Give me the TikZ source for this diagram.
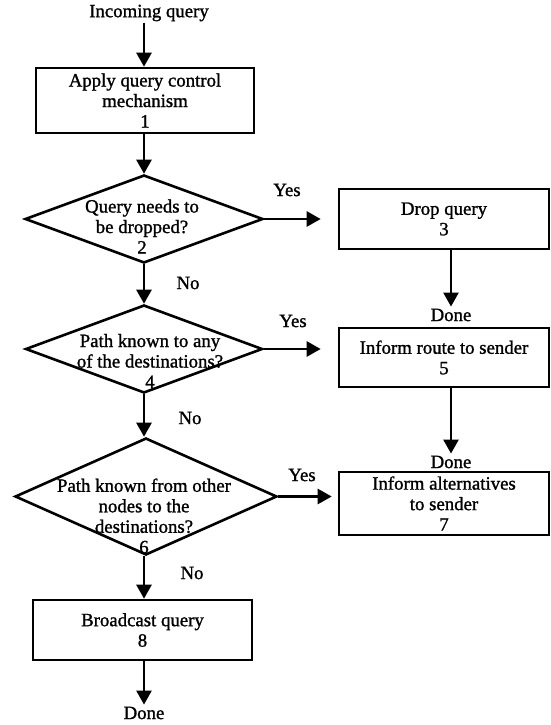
\documentclass[tikz,border=0pt]{standalone}
\usepackage{fontspec}
\setmainfont{Liberation Serif}[BoldFont={Liberation Serif},BoldFeatures={FakeBold=1.2}]
\usetikzlibrary{shapes.geometric,arrows.meta}
\begin{document}
\begin{tikzpicture}[x=1pt,y=1pt,
  every node/.style={font=\fontsize{18.8}{20.5}\selectfont\bfseries},
  lw/.style={line width=2.6pt},
  box/.style={draw, lw, rectangle, align=center, inner sep=0pt},
  dia/.style={draw, lw, diamond, inner sep=0pt},
  txt/.style={align=center, inner sep=2pt},
  arr/.style={lw, -{Triangle[length=14pt,width=15pt]}}
]
\useasboundingbox (0,0) rectangle (551,-725);
\fill[white] (0,0) rectangle (551,-725);
% nodes
\node[txt] (inc) at (149,-13) {Incoming query};
\node[box, minimum width=218, minimum height=65] (b1) at (145,-100.5) {Apply query control\\mechanism\\1};
\node[dia, minimum width=238, minimum height=88] (d2) at (144,-219) {};
\node[txt] (t2) at (142,-226.5) {Query needs to\\be dropped?\\2};
\node[box, minimum width=210, minimum height=60] (b3) at (444,-219) {Drop query\\3};
\node[txt] (done1) at (451,-315) {Done};
\node[dia, minimum width=237, minimum height=88] (d4) at (144,-349) {};
\node[txt] (t4) at (150,-361) {Path known to any\\of the destinations?\\4};
\node[box, minimum width=210, minimum height=59] (b5) at (444,-357.5) {Inform route to sender\\5};
\node[txt] (done2) at (451,-462) {Done};
\node[dia, minimum width=262, minimum height=117] (d6) at (146,-496.5) {};
\node[txt] (t6) at (144,-516) {Path known from other\\nodes to the\\destinations?\\6};
\node[box, minimum width=210, minimum height=63] (b7) at (444,-503.5) {Inform alternatives\\to sender\\7};
\node[box, minimum width=219, minimum height=60] (b8) at (142.5,-630) {Broadcast query\\8};
\node[txt] (done3) at (144,-713) {Done};
% labels
\node[txt] (yes1) at (287,-190) {Yes};
\node[txt] (yes2) at (293,-321) {Yes};
\node[txt] (yes3) at (302,-475) {Yes};
\node[txt] (no1) at (188,-283) {No};
\node[txt] (no2) at (190,-418) {No};
\node[txt] (no3) at (192,-573) {No};
% connectors
\draw[arr] (inc.south -| d2.north) -- (d2.north |- b1.north);
\draw[arr] (d2.north |- b1.south) -- (d2.north);
\draw[arr, shorten >=17pt] (d2.east) -- (d2.east -| b3.west);
\draw[arr] (b3.south -| done1) -- (done1.north);
\draw[arr] (d2.south) -- (d2.south |- d4.north);
\draw[arr, shorten >=17pt] (d4.east) -- (d4.east -| b5.west);
\draw[arr] (b5.south -| done2) -- (done2.north);
\draw[arr] (d4.south) -- (d4.south |- d6.north);
\draw[arr, shorten >=6pt] (d6.east) -- (d6.east -| b7.west);
\draw[arr] (d6.south -| d2.south) -- (d2.south |- b8.north);
\draw[arr] (d2.south |- b8.south) -- (d2.south |- done3.north);
\end{tikzpicture}
\end{document}
